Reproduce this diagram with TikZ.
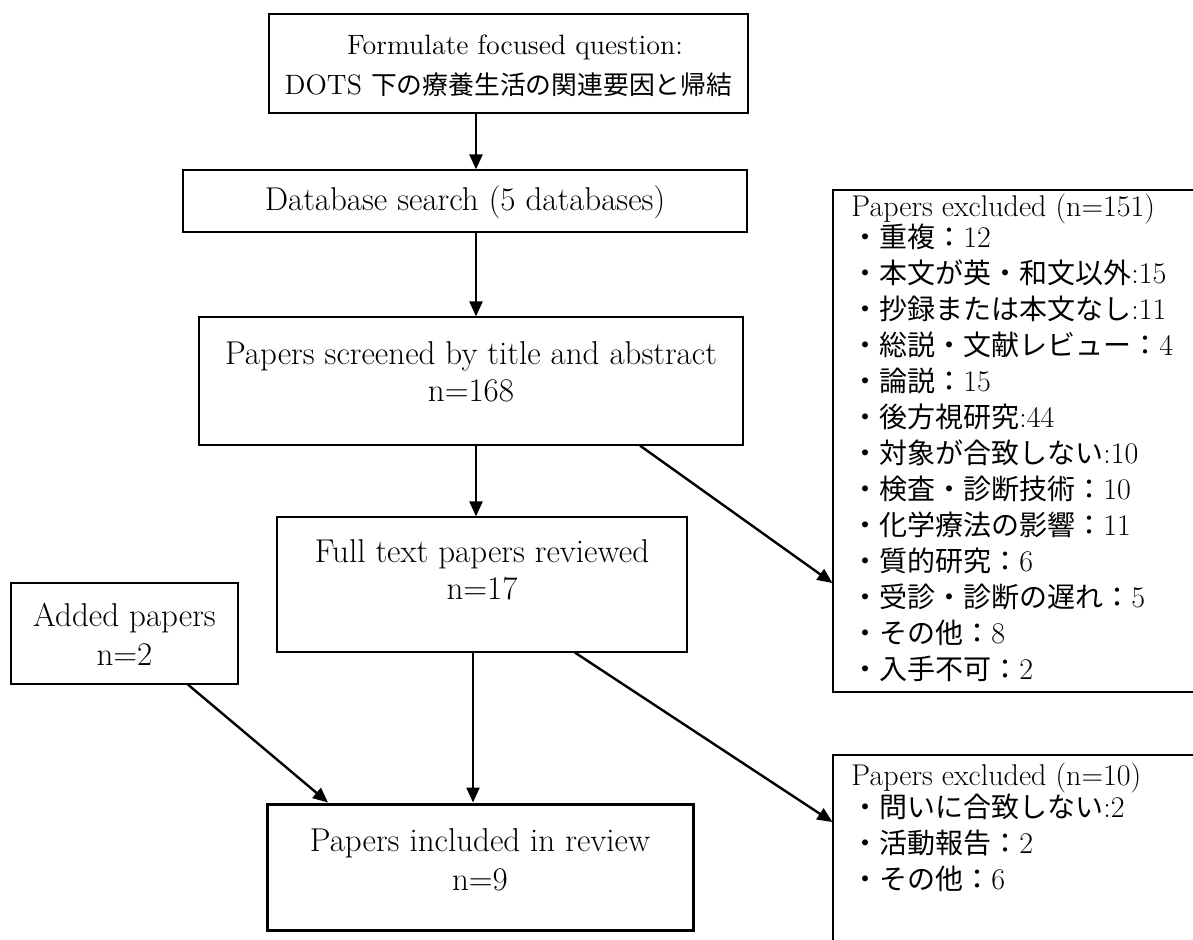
\documentclass[tikz,border=0pt]{standalone}
\usepackage{fontspec}
\newfontfamily\jp{Noto Sans CJK JP}
\newcommand\J[1]{{\jp\fontsize{14}{18}\selectfont #1}}
\usetikzlibrary{arrows.meta}
\begin{document}
\begin{tikzpicture}[x=0.5pt,y=-0.5pt,
  box/.style={draw,line width=0.6pt,inner sep=0pt},
  finalbox/.style={box,line width=1.5pt},
  btext/.style={anchor=base,inner sep=0pt,font=\fontsize{16.5}{19}\selectfont},
  qtext/.style={anchor=base,inner sep=0pt,font=\fontsize{14}{18}\selectfont},
  listtext/.style={anchor=north west,inner sep=0pt,align=left,
    font=\fontsize{15}{18}\selectfont},
  arr/.style={-{Triangle[length=7.5pt,width=6.5pt]},line width=1.2pt},
]
\useasboundingbox (0,0) rectangle (1193,939);
\clip (0,0) rectangle (1193,939);
\fill[white] (0,0) rectangle (1193,939);

% boxes
\node[box,minimum width=239.5pt,minimum height=49.5pt] (q) at (508.5,63.5) {};
\node[box,minimum width=282pt,minimum height=31pt] (db) at (465,201) {};
\node[box,minimum width=272pt,minimum height=64pt] (sc) at (471,381) {};
\node[box,minimum width=205pt,minimum height=67.5pt] (ft) at (482,584.5) {};
\node[box,minimum width=113.5pt,minimum height=50.5pt] (ad) at (124.5,633.5) {};
\node[finalbox,minimum width=213pt,minimum height=63pt] (inc) at (480,867) {};
\node[box,minimum width=198.5pt,minimum height=251pt] (ex1) at (1031.5,441) {};
\node[box,minimum width=198.5pt,minimum height=112.5pt] (ex2) at (1031.5,867.5) {};

% box texts
\node[qtext] (q1) at (515,54) {Formulate focused question:};
\node[qtext] (q2) at (508.5,94) {DOTS {\jp\fontsize{12.9}{18}\selectfont 下の療養生活の関連要因と帰結}};
\node[btext] (db1) at (465,210) {Database search (5 databases)};
\node[btext] (sc1) at (471,364) {Papers screened by title and abstract};
\node[btext] (sc2) at (471,401) {n=168};
\node[btext] (ft1) at (482,562) {Full text papers reviewed};
\node[btext] (ft2) at (482,599) {n=17};
\node[btext] (ad1) at (124.5,626) {Added papers};
\node[btext] (ad2) at (124.5,665) {n=2};
\node[btext] (inc1) at (480,851) {Papers included in review};
\node[btext] (inc2) at (480,890) {n=9};

% exclusion lists
\node[listtext] (l1) at (851,194) {Papers excluded (n=151)\\[-2.5pt]
  \J{・重複：}12\\
  \J{・本文が英・和文以外}:15\\
  \J{・抄録または本文なし}:11\\
  \J{・総説・文献レビュー：}4\\
  \J{・論説：}15\\
  \J{・後方視研究}:44\\
  \J{・対象が合致しない}:10\\
  \J{・検査・診断技術：}10\\
  \J{・化学療法の影響：}11\\
  \J{・質的研究：}6\\
  \J{・受診・診断の遅れ：}5\\
  \J{・その他：}8\\
  \J{・入手不可：}2};
\node[listtext] (l2) at (851,763) {Papers excluded (n=10)\\[-2pt]
  \J{・問いに合致しない}:2\\
  \J{・活動報告：}2\\
  \J{・その他：}6};

% connector helpers
\coordinate (ax) at (476,0);
\coordinate (bx) at (473,0);
\coordinate (s1) at (640,0);
\coordinate (s2) at (575,0);
\coordinate (e1) at (0,583);
\coordinate (e2) at (0,822);
\coordinate (a1) at (188,0);
\coordinate (a2) at (328,0);

\draw[arr] (q.south -| ax) -- (db.north -| ax);
\draw[arr] (db.south -| ax) -- (sc.north -| ax);
\draw[arr] (sc.south -| ax) -- (ft.north -| ax);
\draw[arr] (ft.south -| bx) -- (inc.north -| bx);
\draw[arr] (ad.south -| a1) -- (inc.north -| a2);
\draw[arr] (sc.south -| s1) -- (ex1.west |- e1);
\draw[arr] (ft.south -| s2) -- (ex2.west |- e2);
\end{tikzpicture}
\end{document}
